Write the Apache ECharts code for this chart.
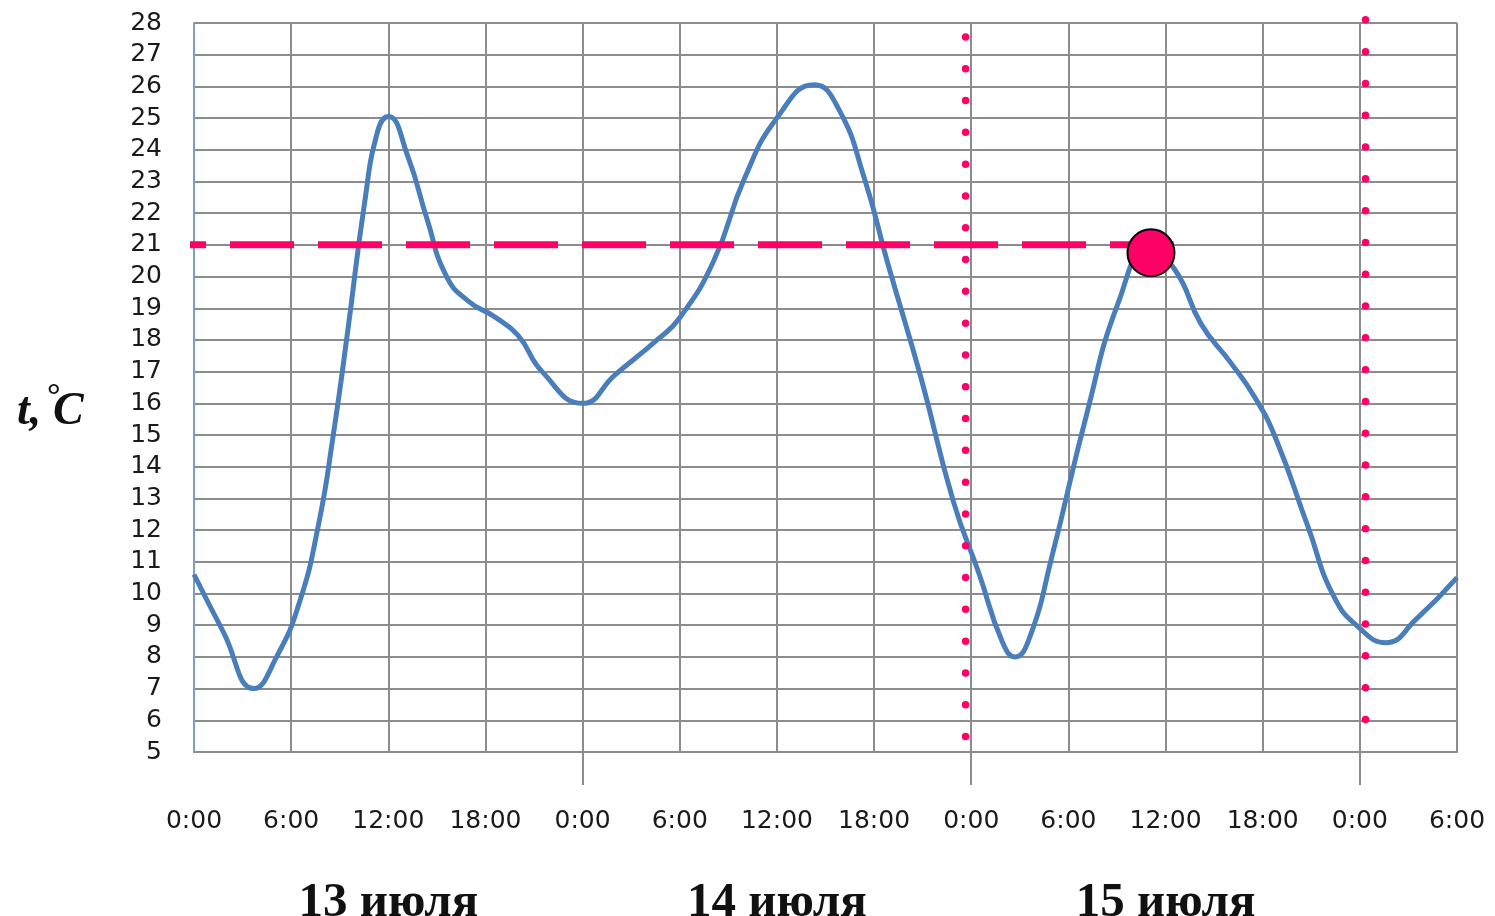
<!DOCTYPE html>
<html><head><meta charset="utf-8">
<script src="https://cdn.jsdelivr.net/npm/echarts@6/dist/echarts.min.js"></script>
<style>html,body{margin:0;padding:0;background:#fff}#c{width:1495px;height:916px}</style>
</head><body><div id="c"></div>
<script>
// hours since 13 July 0:00
const hours = [0,1.8,3.7,5.1,6.5,7.7,8.6,9.5,10.5,11.35,12,13.2,14.4,15.6,17,18.5,20,21.5,24,26,28.6,30,32.1,34,36,38.3,39.8,41.4,42.8,44.9,46.9,48.5,49.9,50.7,51.6,53,55.1,57.1,59,60.6,62.2,64,65.5,66.8,68.8,70.4,72,73.6,75.5,78];
const temps = [10.6,8.8,7.0,8.0,9.7,12.2,15.0,18.3,22.2,24.6,25.05,23.8,21.8,20.0,19.2,18.75,18.15,17.0,16.0,16.9,18.0,18.7,20.5,23.1,25.0,26.05,25.3,23.1,20.5,16.8,12.9,10.6,8.5,8.0,8.6,11.2,15.6,19.2,20.9,20.2,18.5,17.3,16.2,14.9,12.1,9.9,8.9,8.45,9.2,10.5];
const timeLabels = ['0:00','6:00','12:00','18:00','0:00','6:00','12:00','18:00','0:00','6:00','12:00','18:00','0:00','6:00'];
const dayLabels = ['13 июля','14 июля','15 июля'];
const dayCenters = [12,36,60];
const dayBoundaries = [24,48,72];
const highlightPoint = [59.1, 20.75];
const levelValue = 21;
const levelSpan = [-0.74, 60.5];
const guideA = [[47.65, 27.56],[47.65, 5.35]];
const guideB = [[72.35, 28.1],[72.35, 5.85]];

const MAG = '#ff0066';
const GRID = '#8c8c8c';
const chart = echarts.init(document.getElementById('c'), null, {renderer:'canvas'});
const dotted = {color: MAG, width: 7.5, type: [0, 31.8], cap: 'round'};
chart.setOption({
  animation: false,
  backgroundColor: '#fff',
  grid: {left: 194, right: 38, top: 23, bottom: 164, containLabel: false, outerBoundsMode: 'none'},
  xAxis: [{
    type: 'value', min: 0, max: 78, interval: 6,
    axisLine: {show: true, onZero: false, lineStyle: {color: GRID, width: 2}},
    axisTick: {show: false},
    splitLine: {show: true, lineStyle: {color: GRID, width: 2}},
    axisLabel: {margin: 57, fontSize: 25, fontFamily: 'DejaVu Sans', color: '#1a1a1a',
      formatter: v => timeLabels[Math.round(v / 6)] || ''}
  }, {
    type: 'value', min: 0, max: 78, interval: 12, position: 'bottom',
    axisLine: {show: false},
    axisTick: {show: true, customValues: dayBoundaries, length: 33, lineStyle: {color: GRID, width: 2}},
    splitLine: {show: false},
    axisLabel: {margin: 127, fontSize: 49, fontWeight: 'bold', fontFamily: 'Liberation Serif', color: '#111',
      formatter: v => { const i = dayCenters.indexOf(v); return i >= 0 ? dayLabels[i] : ''; }}
  }],
  yAxis: {
    type: 'value', min: 5, max: 28, interval: 1,
    axisLine: {show: true, lineStyle: {color: '#7f9cc6', width: 2}},
    axisTick: {show: false},
    splitLine: {show: true, lineStyle: {color: GRID, width: 2}},
    axisLabel: {margin: 32, fontSize: 25, fontFamily: 'DejaVu Sans', color: '#1a1a1a'}
  },
  series: [{
    type: 'line', smooth: 0.5, symbol: 'none', z: 2,
    data: hours.map((h, i) => [h, temps[i]]),
    lineStyle: {color: '#4a7ebb', width: 5}
  }, {
    type: 'line', symbol: 'none', clip: false, z: 3,
    data: [[levelSpan[0], levelValue], [levelSpan[1], levelValue]],
    lineStyle: {color: MAG, width: 7, type: [64, 24], dashOffset: 40, cap: 'butt'}
  }, {
    type: 'line', symbol: 'none', clip: false, z: 3, data: guideA, lineStyle: dotted
  }, {
    type: 'line', symbol: 'none', clip: false, z: 3, data: guideB, lineStyle: dotted
  }, {
    type: 'scatter', z: 5, symbolSize: 47, data: [highlightPoint],
    itemStyle: {color: MAG, borderColor: '#000', borderWidth: 2, opacity: 1}
  }],
  graphic: [
    {type: 'text', left: 17, top: 389, style: {text: 't,', font: 'italic bold 46px "Liberation Serif"', fill: '#111'}},
    {type: 'text', left: 47, top: 380, style: {text: '°', font: 'bold 34px "Liberation Serif"', fill: '#111'}},
    {type: 'text', left: 53, top: 389, style: {text: 'C', font: 'italic bold 46px "Liberation Serif"', fill: '#111'}}
  ]
});
</script>
</body></html>
